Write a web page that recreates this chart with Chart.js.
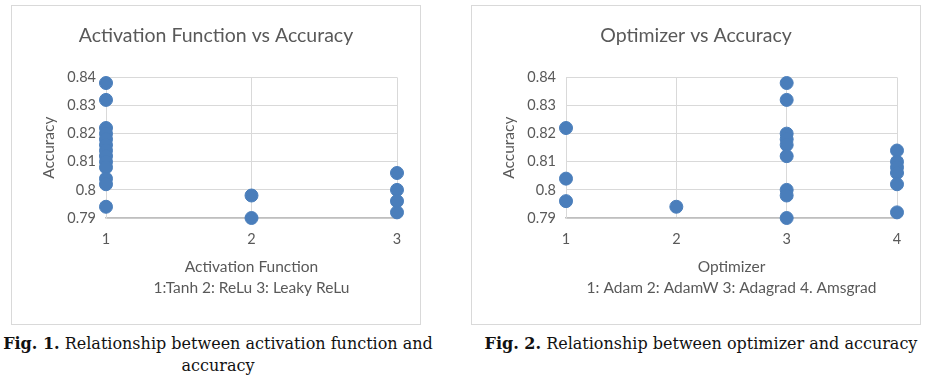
<!DOCTYPE html>
<html>
<head>
<meta charset="utf-8">
<script src="https://cdn.jsdelivr.net/npm/chart.js"></script>
<style>
  body { margin: 0; background: #fff; width: 929px; height: 378px; position: relative; overflow: hidden; }
  .box { position: absolute; border: 1px solid #d9d9d9; background: #fff; }
  .box canvas { display: block; }
  .caption { position: absolute; font-family: "DejaVu Serif", serif; font-size: 16px; color: #111; text-align: center; line-height: 22px; white-space: nowrap; }
  .caption b { font-weight: bold; }
</style>
</head>
<body>
<div class="box" style="left:11px; top:5px; width:408px; height:318px;"><canvas id="actChart" width="408" height="318"></canvas></div>
<div class="box" style="left:471px; top:5px; width:448px; height:318px;"><canvas id="optChart" width="448" height="318"></canvas></div>
<div class="caption" style="left:0px; top:333px; width:436px;"><b>Fig. 1.</b> Relationship between activation function and<br>accuracy</div>
<div class="caption" style="left:480px; top:333px; width:442px;"><b>Fig. 2.</b> Relationship between optimizer and accuracy</div>

<script>
  // activation function: 1 Tanh, 2 ReLu, 3 Leaky ReLu
  const tanhAcc = [0.838, 0.832, 0.822, 0.820, 0.818, 0.816, 0.814, 0.812, 0.810, 0.808, 0.804, 0.802, 0.794];
  const reluAcc = [0.798, 0.790];
  const leakyAcc = [0.806, 0.800, 0.796, 0.792];

  // optimizer: 1 Adam, 2 AdamW, 3 Adagrad, 4 Amsgrad
  const adamAcc = [0.822, 0.804, 0.796];
  const adamwAcc = [0.794];
  const adagradAcc = [0.838, 0.832, 0.820, 0.818, 0.816, 0.812, 0.800, 0.798, 0.790];
  const amsgradAcc = [0.814, 0.810, 0.808, 0.806, 0.802, 0.792];

  const yTicks = [0.79, 0.8, 0.81, 0.82, 0.83, 0.84];

  const BLUE = '#4a7ebb';
  const GREY = '#595959';
  const FONT = 'Lato, "Open Sans", sans-serif';

  function toPoints(groups) {
    const pts = [];
    groups.forEach((vals, i) => vals.forEach(v => pts.push({ x: i + 1, y: v })));
    return pts;
  }

  function makeChart(id, title, groups, xTitle) {
    new Chart(document.getElementById(id), {
      type: 'scatter',
      data: { datasets: [{ data: toPoints(groups), backgroundColor: BLUE, borderColor: BLUE, pointRadius: 6.5, pointHoverRadius: 6.5, clip: false }] },
      options: {
        responsive: false, animation: false,
        layout: { padding: { left: 0, right: 0, top: 0, bottom: 26 } },
        plugins: {
          legend: { display: false }, tooltip: { enabled: false },
          title: { display: true, text: title, color: GREY, font: { family: FONT, size: 19.5, weight: 'normal' }, padding: { top: 18, bottom: 30 } }
        },
        scales: {
          x: {
            type: 'linear', min: 1, max: groups.length,
            afterBuildTicks: s => { s.ticks = groups.map((g, i) => ({ value: i + 1 })); },
            ticks: { color: GREY, font: { family: FONT, size: 14.5 }, padding: 13 },
            grid: { color: '#d9d9d9', drawTicks: false },
            border: { color: '#bfbfbf', width: 1.5 },
            title: { display: true, text: xTitle, color: GREY, font: { family: FONT, size: 15.5, lineHeight: 1.35 }, padding: { top: 10, bottom: 0 } },
            afterFit: s => { s.height = 80; }
          },
          y: {
            min: 0.79, max: 0.84,
            afterBuildTicks: s => { s.ticks = yTicks.map(v => ({ value: v })); },
            ticks: { color: GREY, font: { family: FONT, size: 14.5 }, padding: 10, callback: v => String(+v.toFixed(2)) },
            grid: { color: '#d9d9d9', drawTicks: false },
            border: { color: '#d9d9d9' },
            title: { display: true, text: 'Accuracy', color: GREY, font: { family: FONT, size: 15.5 }, padding: { top: 28, bottom: 0 } },
            afterFit: s => { s.width = 94; }
          },
          // empty axis on the right, only to keep space beside the plot
          yRight: {
            position: 'right', display: true,
            ticks: { display: false }, grid: { display: false }, border: { display: false },
            afterFit: s => { s.width = 23; }
          }
        }
      }
    });
  }

  makeChart('actChart', 'Activation Function vs Accuracy', [tanhAcc, reluAcc, leakyAcc],
    ['Activation Function', '1:Tanh 2: ReLu 3: Leaky ReLu']);
  makeChart('optChart', 'Optimizer vs Accuracy', [adamAcc, adamwAcc, adagradAcc, amsgradAcc],
    ['Optimizer', '1: Adam 2: AdamW 3: Adagrad 4. Amsgrad']);
</script>
</body>
</html>
